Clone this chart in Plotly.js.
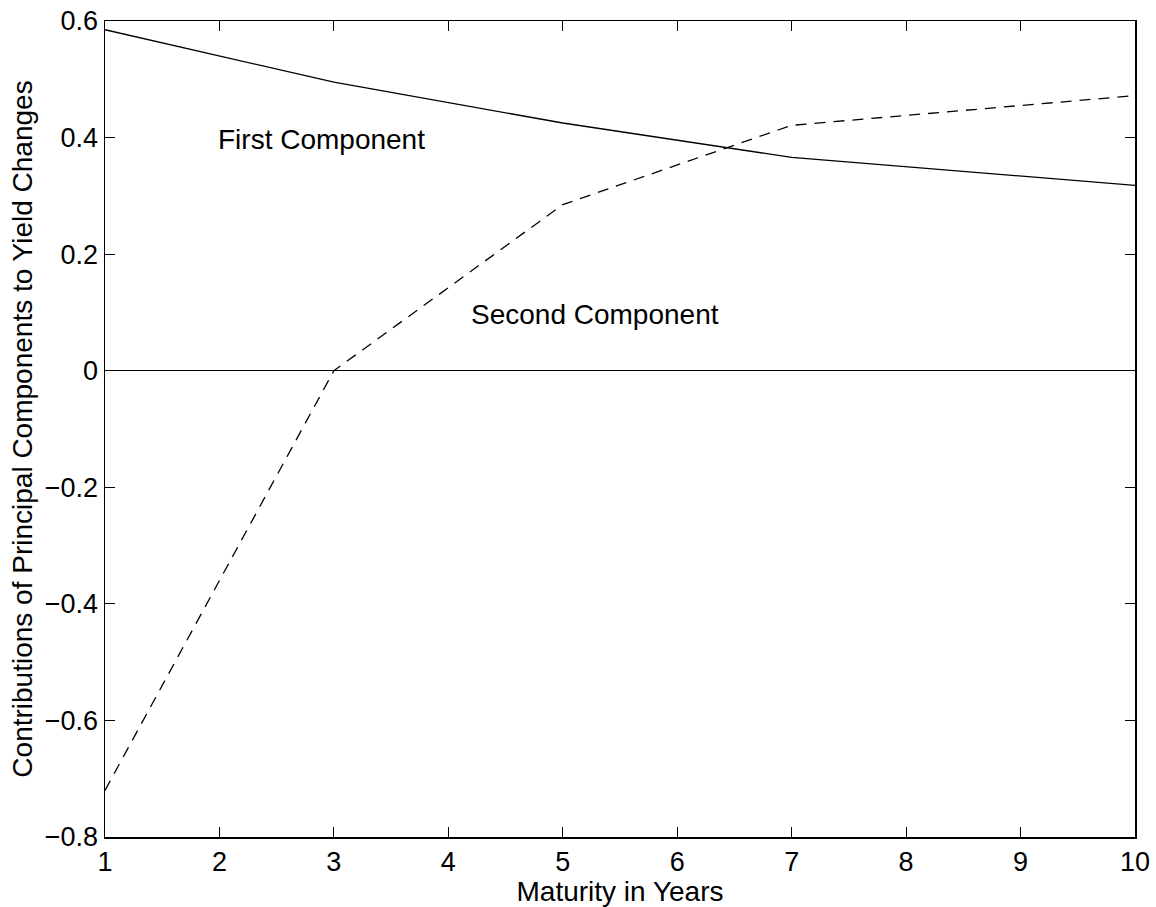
<!DOCTYPE html>
<html>
<head>
<meta charset="utf-8">
<script src="https://cdn.plot.ly/plotly-3.0.1.min.js"></script>
<style>html,body{margin:0;padding:0;background:#fff;}#chart{width:1156px;height:907px;}</style>
</head>
<body>
<div id="chart"></div>
<script>
const maturities = [1, 3, 5, 7, 10];
const firstComponent = [0.585, 0.495, 0.425, 0.366, 0.318];
const secondComponent = [-0.72, 0.0, 0.285, 0.421, 0.472];
const xTicks = [1, 2, 3, 4, 5, 6, 7, 8, 9, 10];
const yTicks = [-0.8, -0.6, -0.4, -0.2, 0, 0.2, 0.4, 0.6];
const yTickLabels = ['\u22120.8', '\u22120.6', '\u22120.4', '\u22120.2', '0', '0.2', '0.4', '0.6'];
const labels = ['First Component', 'Second Component'];
const labelX = [2.89, 5.28];
const labelY = [0.397, 0.097];

const FONT = 'Liberation Sans, Arial, Helvetica, sans-serif';

const traces = [
  {x: maturities, y: firstComponent, type: 'scatter', mode: 'lines', name: labels[0],
   line: {color: '#000', width: 1.3}},
  {x: maturities, y: secondComponent, type: 'scatter', mode: 'lines', name: labels[1],
   line: {color: '#000', width: 1.3, dash: '11px,8px'}}
];

const layout = {
  width: 1156, height: 907,
  margin: {l: 105, r: 21, t: 21, b: 70, pad: 0},
  paper_bgcolor: '#fff', plot_bgcolor: '#fff',
  showlegend: false,
  font: {family: FONT, size: 27, color: '#000'},
  xaxis: {
    range: [1, 10], tickvals: xTicks, ticks: 'inside', ticklen: 10, tickwidth: 1, tickcolor: '#000',
    showline: true, linecolor: '#000', linewidth: 1.5, mirror: 'ticks',
    showgrid: false, zeroline: false,
    tickfont: {family: FONT, size: 27, color: '#000'},
    title: {text: 'Maturity in Years', font: {family: FONT, size: 28, color: '#000'}, standoff: 0}
  },
  yaxis: {
    range: [-0.8, 0.6], tickvals: yTicks, ticktext: yTickLabels, ticks: 'inside', ticklen: 10, tickwidth: 1, tickcolor: '#000',
    showline: true, linecolor: '#000', linewidth: 1.5, mirror: 'ticks',
    showgrid: false, zeroline: true, zerolinecolor: '#000', zerolinewidth: 1.3,
    tickfont: {family: FONT, size: 27, color: '#000'},
    title: {text: 'Contributions of Principal Components to Yield Changes', font: {family: FONT, size: 28, color: '#000'}, standoff: 4}
  },
  annotations: labels.map((t, i) => ({
    x: labelX[i], y: labelY[i], xref: 'x', yref: 'y', text: t, showarrow: false,
    xanchor: 'center', yanchor: 'middle', font: {family: FONT, size: 28, color: '#000'}
  }))
};

Plotly.newPlot('chart', traces, layout, {staticPlot: true, displayModeBar: false});
</script>
</body>
</html>
